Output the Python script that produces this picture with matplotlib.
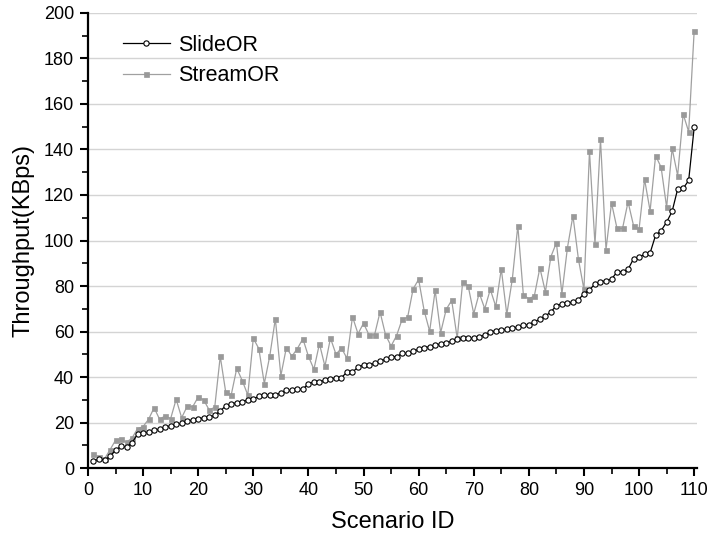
import matplotlib
matplotlib.use("Agg")
import matplotlib.pyplot as plt
from matplotlib.ticker import MultipleLocator

scenario_ids = list(range(1, 111))

slideor = [3.2, 3.8, 3.5, 5.1, 7.9, 9.5, 9.2, 11.1, 14.9, 15.5,
           15.8, 16.7, 17.1, 17.9, 18.6, 19.2, 19.6, 20.7, 21.1, 21.7,
           22.0, 22.3, 23.2, 25.1, 27.3, 28.3, 28.6, 29.2, 29.9, 30.4,
           31.5, 31.9, 32.1, 32.1, 33.1, 34.1, 34.1, 34.6, 34.6, 37.1,
           37.8, 37.8, 38.7, 39.1, 39.7, 39.7, 42.2, 42.2, 44.3, 45.3,
           45.3, 46.0, 47.0, 47.8, 48.9, 48.9, 50.4, 50.4, 51.3, 52.2,
           52.9, 53.3, 54.1, 54.5, 55.1, 55.7, 56.6, 57.0, 57.0, 57.0,
           57.6, 58.5, 59.6, 60.4, 60.7, 61.0, 61.4, 62.0, 62.7, 63.0,
           64.3, 65.4, 66.8, 68.6, 71.4, 72.1, 72.5, 73.0, 74.0, 76.6,
           78.3, 80.9, 81.8, 82.3, 83.0, 86.2, 86.3, 87.3, 92.0, 92.7,
           93.9, 94.5, 102.3, 104.3, 108.1, 112.8, 122.6, 122.9, 126.4, 149.7]

streamor = [6.0, 4.8, 4.0, 8.0, 12.2, 12.6, 11.3, 13.2, 17.3, 18.2,
            21.4, 26.5, 21.4, 22.9, 21.7, 30.2, 22.1, 27.1, 26.9, 31.2,
            29.9, 25.5, 26.7, 49.1, 33.3, 32.2, 43.8, 38.4, 32.1, 57.0,
            52.5, 37.1, 49.4, 65.6, 40.6, 52.9, 49.1, 52.5, 56.8, 49.1,
            43.4, 54.6, 44.7, 57.1, 50.0, 52.7, 48.2, 66.5, 59.0, 63.6,
            58.5, 58.5, 68.6, 58.5, 53.6, 58.2, 65.3, 66.2, 78.7, 82.9,
            69.2, 60.1, 78.1, 59.5, 69.7, 73.7, 57.0, 81.9, 79.9, 67.8,
            76.9, 70.0, 78.5, 71.0, 87.5, 67.5, 83.0, 106.5, 76.2, 74.3,
            75.7, 88.0, 77.4, 92.9, 99.0, 76.6, 96.8, 110.9, 91.7, 78.5,
            139.3, 98.3, 144.5, 96.0, 116.5, 105.3, 105.3, 117.0, 106.5, 105.0,
            126.9, 113.0, 137.3, 132.2, 114.6, 140.5, 128.5, 155.6, 147.8, 192.2]

series_labels = ["SlideOR", "StreamOR"]
x_label = "Scenario ID"
y_label = "Throughput(KBps)"

plt.rcParams['font.family'] = ['Liberation Sans', 'DejaVu Sans']

fig = plt.figure(figsize=(7.10, 5.39), dpi=100)
ax = fig.add_axes([0.1239, 0.1317, 0.8577, 0.8442])

ax.plot(scenario_ids, streamor, color='#a0a0a0', lw=0.9, marker='s',
        markersize=3.6, markerfacecolor='#999999', markeredgecolor='#999999',
        markeredgewidth=0.5, label=series_labels[1], zorder=3)
ax.plot(scenario_ids, slideor, color='black', lw=0.9, marker='o',
        markersize=3.8, markerfacecolor='white', markeredgecolor='black',
        markeredgewidth=0.8, label=series_labels[0], zorder=4)

ax.set_xlim(0, 110.5)
ax.set_ylim(0, 200)
ax.xaxis.set_major_locator(MultipleLocator(10))
ax.xaxis.set_minor_locator(MultipleLocator(5))
ax.yaxis.set_major_locator(MultipleLocator(20))
ax.yaxis.set_minor_locator(MultipleLocator(10))

ax.grid(axis='y', which='major', color='#d4d4d4', lw=1.0, zorder=0)
ax.set_axisbelow(True)

for s in ['top', 'right']:
    ax.spines[s].set_visible(False)
for s in ['left', 'bottom']:
    ax.spines[s].set_linewidth(1.6)
    ax.spines[s].set_color('black')

ax.tick_params(axis='both', which='major', direction='out', length=6,
               width=1.5, labelsize=13, pad=4)
ax.tick_params(axis='both', which='minor', direction='out', length=4,
               width=1.2)

ax.set_xlabel(x_label, fontsize=17, labelpad=9)
ax.set_ylabel(y_label, fontsize=17, labelpad=7)

handles, labels = ax.get_legend_handles_labels()
order = [1, 0]
ax.legend([handles[i] for i in order], [labels[i] for i in order],
          loc='upper left', bbox_to_anchor=(0.025, 0.995), frameon=False,
          fontsize=15.5, handlelength=2.2, handletextpad=0.4,
          labelspacing=0.45)

fig.savefig("out.png", dpi=100)
